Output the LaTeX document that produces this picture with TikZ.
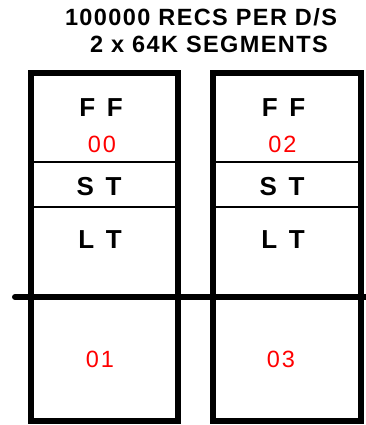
\documentclass[tikz,border=0pt]{standalone}
\usepackage{fontspec}
\setmainfont{Liberation Sans}
\usetikzlibrary{positioning, calc}

\begin{document}
\begin{tikzpicture}[x=1pt, y=-1pt,
  segbox/.style={draw, line width=6pt, minimum width=147pt, minimum height=348pt, inner sep=0pt},
  partlabel/.style={font=\fontsize{26}{26}\selectfont\bfseries, inner sep=0pt},
  numlabel/.style={font=\fontsize{23.5}{24}\selectfont\addfontfeatures{LetterSpace=8}, text=red, inner sep=0pt},
  headline/.style={font=\fontsize{23.5}{24}\selectfont\bfseries\addfontfeatures{LetterSpace=6}, inner sep=0pt},
  divider/.style={line width=2pt}]
  \useasboundingbox (0,0) rectangle (365,425);

  % Title
  \node[headline] (title1) at (201,17) {100000 RECS PER D/S};
  \node[headline] (title2) at (209,44) {2 x 64K SEGMENTS};

  % Two data sets
  \node[segbox] (seg0) at (104.5,247) {};
  \node[segbox, minimum width=148pt] (seg1) at (287,247) {};

  % Dividers inside each box
  \foreach \s in {seg0, seg1} {
    \draw[divider] (\s.west |- 0,162) -- (\s.east |- 0,162);
    \draw[divider] (\s.west |- 0,207) -- (\s.east |- 0,207);
  }

  % Segment boundary
  \coordinate (cutL) at (15,297);
  \coordinate (cutR) at (368,297);
  \draw[line width=6pt, line cap=round] (cutL) -- (cutR);

  % Labels, left
  \node[partlabel] (ff0) at (101,107.5) {F\hspace{0.45em}F};
  \node[numlabel] (n00) at (102,144) {00};
  \node[partlabel] (st0) at (99,187) {S\hspace{0.45em}T};
  \node[partlabel] (lt0) at (100,240) {L\hspace{0.45em}T};
  \node[numlabel] (n01) at (100,359.5) {01};

  % Labels, right
  \node[partlabel] (ff1) at (283.5,107.5) {F\hspace{0.45em}F};
  \node[numlabel] (n02) at (282.5,144) {02};
  \node[partlabel] (st1) at (282,187) {S\hspace{0.45em}T};
  \node[partlabel] (lt1) at (283,240) {L\hspace{0.45em}T};
  \node[numlabel] (n03) at (281,359.5) {03};
\end{tikzpicture}
\end{document}
